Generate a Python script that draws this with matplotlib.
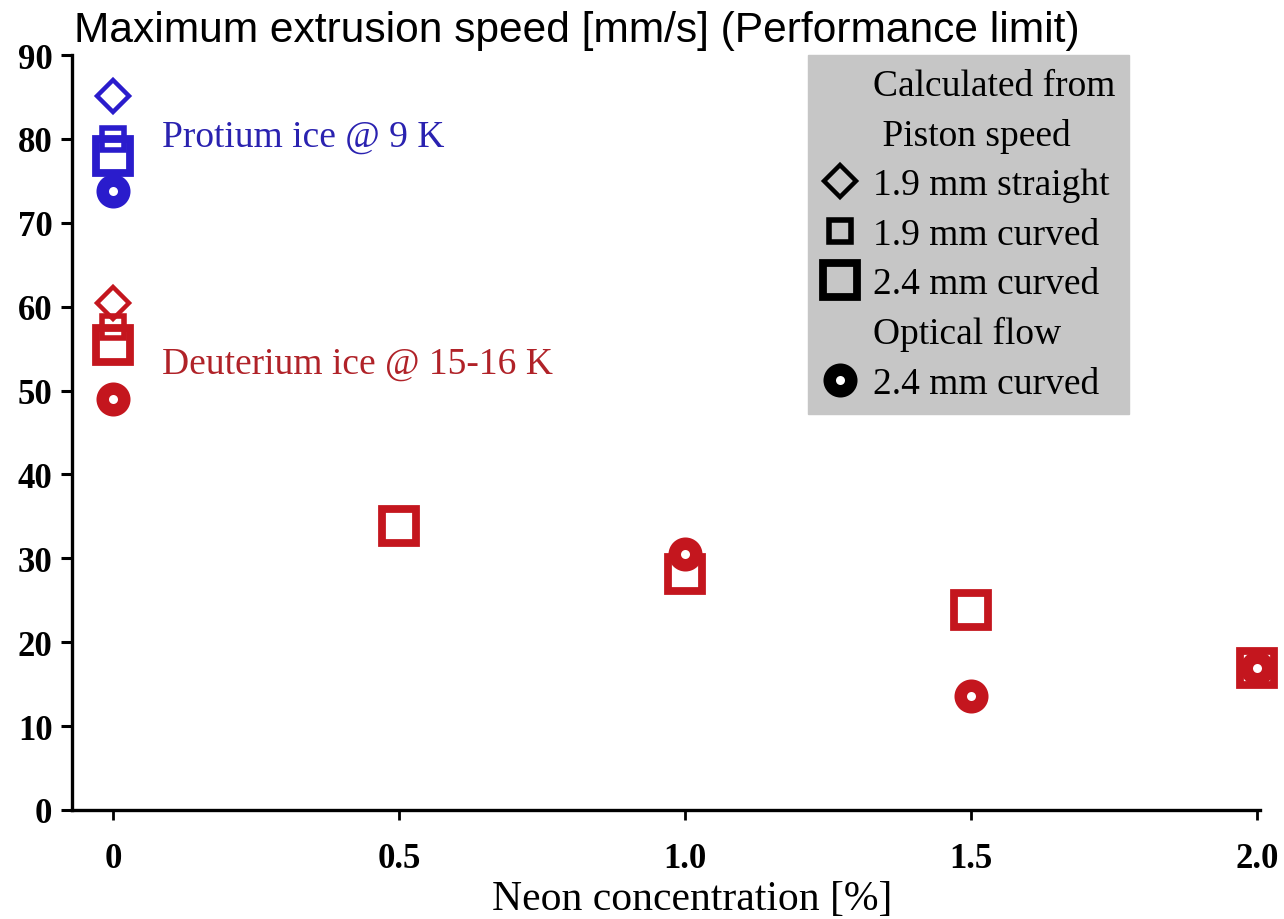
import matplotlib
matplotlib.use("Agg")
import matplotlib.pyplot as plt
from matplotlib.lines import Line2D

# Maximum extrusion speed [mm/s] vs neon concentration [%]
protium_x = [0]
protium_straight_19 = [85.1]
protium_curved_19 = [80.0]
protium_curved_24 = [78.0]
protium_optical = [73.8]

deut_straight_x = [0]
deut_straight_19 = [60.5]
deut_curved19_x = [0]
deut_curved_19 = [57.6]
deut_curved24_x = [0, 0.5, 1.0, 1.5, 2.0]
deut_curved_24 = [55.4, 33.8, 28.1, 23.8, 16.9]
deut_optical_x = [0, 1.0, 1.5, 2.0]
deut_optical = [49.0, 30.5, 13.6, 16.9]

x_ticks = [0, 0.5, 1.0, 1.5, 2.0]
x_tick_labels = ["0", "0.5", "1.0", "1.5", "2.0"]
y_ticks = list(range(0, 91, 10))

blue = "#2a1ccc"
red = "#c4161e"

serif = "Liberation Serif"

# marker styles
diamond = dict(marker="D", markersize=16, markeredgewidth=3.2, markerfacecolor="none",
               linestyle="none", clip_on=False)
small_sq = dict(marker="s", markersize=16, markeredgewidth=4.0, markerfacecolor="none",
                linestyle="none", clip_on=False)
big_sq = dict(marker="s", markersize=24.5, markeredgewidth=5.6, markerfacecolor="none",
              linestyle="none", clip_on=False)
circ = dict(marker="o", markersize=15.5, markeredgewidth=9, markerfacecolor="white",
            linestyle="none", clip_on=False)

fig = plt.figure(figsize=(12.84, 9.2), dpi=100)
ax = fig.add_axes([0.056, 0.1185, 0.925, 0.8205])

ax.plot(protium_x, protium_straight_19, color=blue, markeredgecolor=blue, **diamond)
ax.plot(protium_x, protium_curved_24, color=blue, markeredgecolor=blue, **big_sq)
ax.plot(protium_x, protium_curved_19, color=blue, markeredgecolor=blue, **small_sq)
ax.plot(protium_x, protium_optical, color=blue, markeredgecolor=blue, **circ)

ax.plot(deut_straight_x, deut_straight_19, color=red, markeredgecolor=red, **diamond)
ax.plot(deut_curved24_x, deut_curved_24, color=red, markeredgecolor=red, **big_sq)
ax.plot(deut_curved19_x, deut_curved_19, color=red, markeredgecolor=red, **small_sq)
ax.plot(deut_optical_x, deut_optical, color=red, markeredgecolor=red, **circ)

ax.text(0.086, 80.3, "Protium ice @ 9 K", color="#2a22b0", fontsize=27,
        family=serif, va="center", ha="left")
ax.text(0.086, 53.2, "Deuterium ice @ 15-16 K", color="#b02228", fontsize=27,
        family=serif, va="center", ha="left")

ax.set_xlim(-0.072, 2.005)
ax.set_ylim(0, 90)
ax.set_xticks(x_ticks)
ax.set_xticklabels(x_tick_labels)
ax.set_yticks(y_ticks)
for lab in ax.get_xticklabels() + ax.get_yticklabels():
    lab.set_family(serif)
    lab.set_fontsize(25)
    lab.set_fontweight("bold")

ax.spines["top"].set_visible(False)
ax.spines["right"].set_visible(False)
ax.spines["left"].set_linewidth(2.4)
ax.spines["bottom"].set_linewidth(2.4)
ax.tick_params(axis="y", length=8, width=2.2, pad=6)
ax.tick_params(axis="x", length=7, width=2.0, pad=16)

ax.set_xlabel("Neon concentration [%]", family=serif, fontsize=30)
ax.xaxis.set_label_coords(0.522, -0.092)

# legend with heading rows
blank = Line2D([], [], linestyle="none")
k = "black"
handles = [
    blank, blank,
    Line2D([], [], color=k, markeredgecolor=k, **diamond),
    Line2D([], [], color=k, markeredgecolor=k, **small_sq),
    Line2D([], [], color=k, markeredgecolor=k, **big_sq),
    blank,
    Line2D([], [], color=k, markeredgecolor=k, **circ),
]
labels = ["Calculated from", " Piston speed", "1.9 mm straight", "1.9 mm curved",
          "2.4 mm curved", "Optical flow", "2.4 mm curved"]
leg = ax.legend(handles, labels, loc="upper right", bbox_to_anchor=(0.89, 1.0),
                prop={"family": serif, "size": 27}, frameon=True, fancybox=False,
                facecolor="#c6c6c6", edgecolor="#c6c6c6", framealpha=1,
                handlelength=1.0, handletextpad=0.4, labelspacing=0.4,
                borderpad=0.35, borderaxespad=0)

fig.text(0.058, 0.954, "Maximum extrusion speed [mm/s] (Performance limit)",
         family="Liberation Sans", fontsize=30.6, va="baseline", ha="left")

fig.savefig("out.png", dpi=100)
